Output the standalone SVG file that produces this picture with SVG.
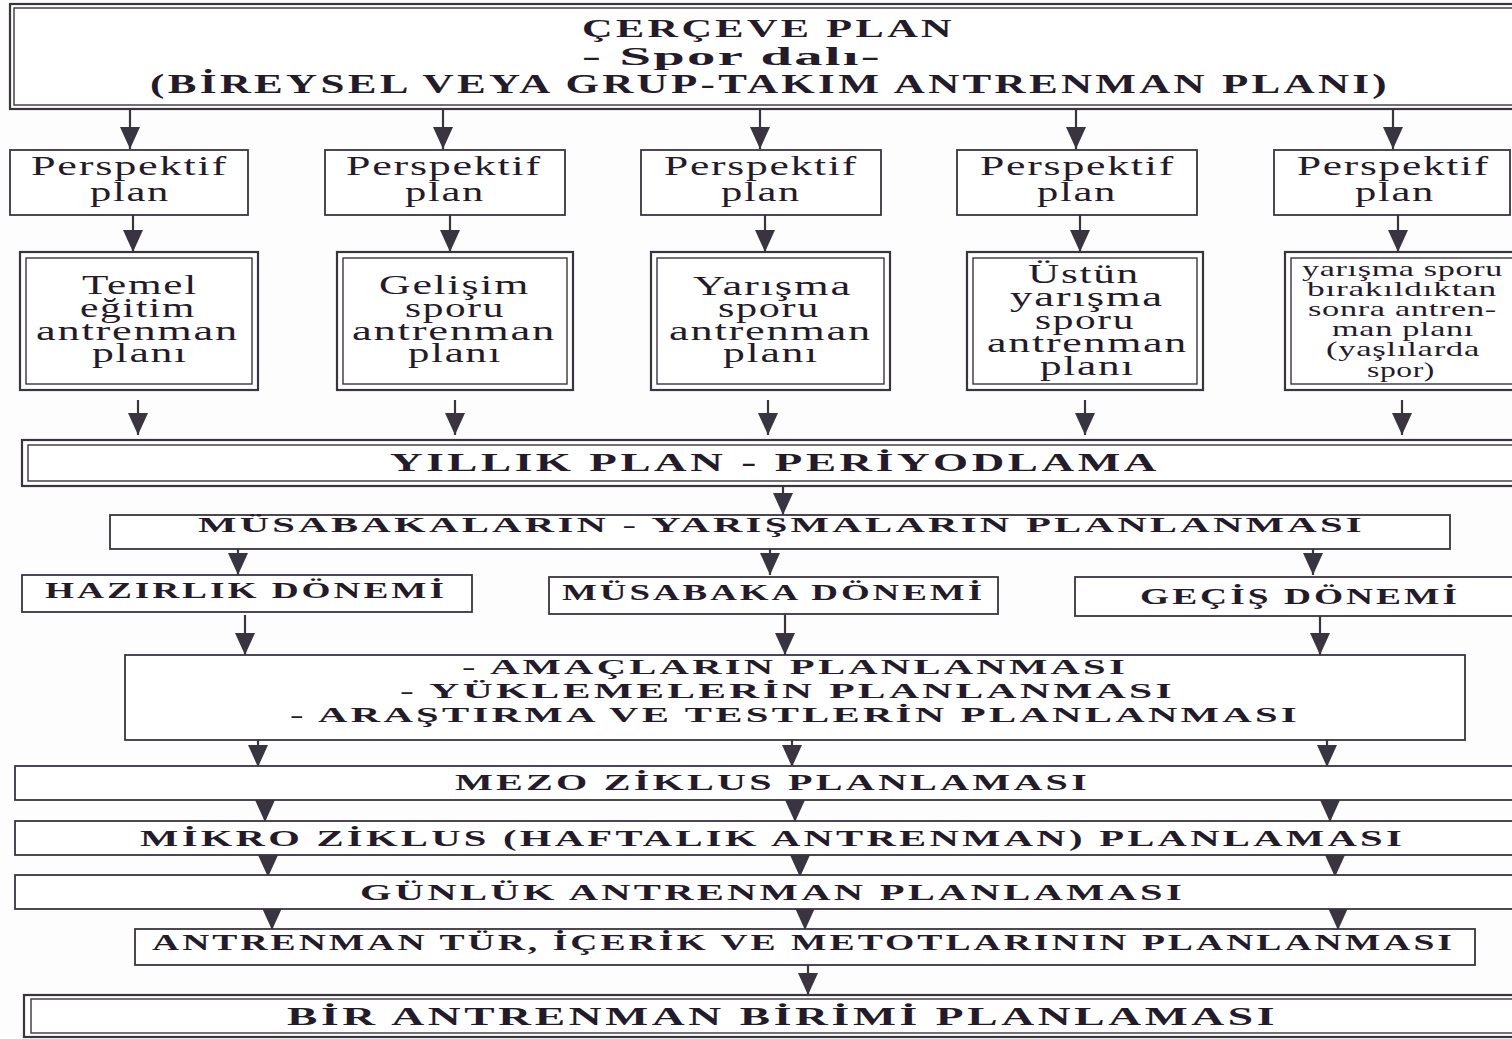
<svg xmlns="http://www.w3.org/2000/svg" width="1512" height="1039" viewBox="0 0 1512 1039">
<defs>
<style>
.bx{fill:#fff;stroke:#3a3440;stroke-width:1.8}
.bo{fill:#fff;stroke:#3a3440;stroke-width:2.2}
.bi{fill:none;stroke:#3a3440;stroke-width:1.4}
.t{font-family:"Liberation Serif","Times New Roman",serif;fill:#241b2a;letter-spacing:0.04em}
.b{font-weight:bold;letter-spacing:0.08em}
.c{stroke:#3a3440;stroke-width:2.2;fill:none;marker-end:url(#ah)}
</style>
<marker id="ah" viewBox="0 0 22 20" refX="22" refY="10" markerWidth="22" markerHeight="20" markerUnits="userSpaceOnUse" orient="auto">
<path d="M0,0 L22,10 L0,20 z" fill="#3a3440"/>
</marker>
</defs>
<rect width="1512" height="1039" fill="#fdfdfd"/>

<g id="connectors">
<line class="c" x1="130" y1="109" x2="130" y2="149"/>
<line class="c" x1="443" y1="109" x2="443" y2="149"/>
<line class="c" x1="760" y1="109" x2="760" y2="149"/>
<line class="c" x1="1076" y1="109" x2="1076" y2="149"/>
<line class="c" x1="1393" y1="109" x2="1393" y2="149"/>

<line class="c" x1="133" y1="215" x2="133" y2="252"/>
<line class="c" x1="450" y1="215" x2="450" y2="252"/>
<line class="c" x1="765" y1="215" x2="765" y2="252"/>
<line class="c" x1="1080" y1="215" x2="1080" y2="252"/>
<line class="c" x1="1398" y1="215" x2="1398" y2="252"/>

<line class="c" x1="138" y1="400" x2="138" y2="435"/>
<line class="c" x1="455" y1="400" x2="455" y2="435"/>
<line class="c" x1="768" y1="400" x2="768" y2="435"/>
<line class="c" x1="1085" y1="400" x2="1085" y2="435"/>
<line class="c" x1="1402" y1="400" x2="1402" y2="435"/>

<line class="c" x1="783" y1="486" x2="783" y2="515"/>

<line class="c" x1="238" y1="548" x2="238" y2="575"/>
<line class="c" x1="770" y1="548" x2="770" y2="575"/>
<line class="c" x1="1313" y1="548" x2="1313" y2="575"/>

<line class="c" x1="245" y1="615" x2="245" y2="655"/>
<line class="c" x1="785" y1="615" x2="785" y2="655"/>
<line class="c" x1="1320" y1="615" x2="1320" y2="655"/>

<line class="c" x1="258" y1="740" x2="258" y2="767"/>
<line class="c" x1="792" y1="740" x2="792" y2="767"/>
<line class="c" x1="1327" y1="740" x2="1327" y2="767"/>

<line class="c" x1="265" y1="800" x2="265" y2="822"/>
<line class="c" x1="795" y1="800" x2="795" y2="822"/>
<line class="c" x1="1330" y1="800" x2="1330" y2="822"/>

<line class="c" x1="268" y1="855" x2="268" y2="877"/>
<line class="c" x1="800" y1="855" x2="800" y2="877"/>
<line class="c" x1="1335" y1="855" x2="1335" y2="877"/>

<line class="c" x1="272" y1="909" x2="272" y2="930"/>
<line class="c" x1="805" y1="909" x2="805" y2="930"/>
<line class="c" x1="1338" y1="909" x2="1338" y2="930"/>

<line class="c" x1="808" y1="965" x2="808" y2="995"/>
</g>

<g id="cerceve">
<rect class="bo" x="10" y="4" width="1512" height="105"/>
<rect class="bi" x="14" y="8" width="1504" height="97"/>
<text class="t b" font-size="26"><tspan x="582" y="37" textLength="373" lengthAdjust="spacingAndGlyphs">ÇERÇEVE PLAN</tspan><tspan x="582" y="65" font-size="25" textLength="300" lengthAdjust="spacingAndGlyphs" style="letter-spacing:0.04em">- Spor dalı-</tspan><tspan x="150" y="93" font-size="27" textLength="1240" lengthAdjust="spacingAndGlyphs">(BİREYSEL VEYA GRUP-TAKIM ANTRENMAN PLANI)</tspan></text>
</g>

<g id="persp1">
<rect class="bx" x="10" y="150" width="238" height="65"/>
<text class="t" font-size="27"><tspan x="31" y="175" textLength="197" lengthAdjust="spacingAndGlyphs">Perspektif</tspan><tspan x="90" y="201" textLength="80" lengthAdjust="spacingAndGlyphs">plan</tspan></text>
</g>
<g id="persp2">
<rect class="bx" x="325" y="150" width="240" height="65"/>
<text class="t" font-size="27"><tspan x="346" y="175" textLength="196" lengthAdjust="spacingAndGlyphs">Perspektif</tspan><tspan x="405" y="201" textLength="80" lengthAdjust="spacingAndGlyphs">plan</tspan></text>
</g>
<g id="persp3">
<rect class="bx" x="641" y="150" width="240" height="65"/>
<text class="t" font-size="27"><tspan x="664" y="175" textLength="194" lengthAdjust="spacingAndGlyphs">Perspektif</tspan><tspan x="721" y="201" textLength="80" lengthAdjust="spacingAndGlyphs">plan</tspan></text>
</g>
<g id="persp4">
<rect class="bx" x="957" y="150" width="240" height="65"/>
<text class="t" font-size="27"><tspan x="980" y="175" textLength="195" lengthAdjust="spacingAndGlyphs">Perspektif</tspan><tspan x="1037" y="201" textLength="80" lengthAdjust="spacingAndGlyphs">plan</tspan></text>
</g>
<g id="persp5">
<rect class="bx" x="1274" y="150" width="236" height="65"/>
<text class="t" font-size="27"><tspan x="1297" y="175" textLength="193" lengthAdjust="spacingAndGlyphs">Perspektif</tspan><tspan x="1355" y="201" textLength="80" lengthAdjust="spacingAndGlyphs">plan</tspan></text>
</g>

<g id="temel">
<rect class="bo" x="20" y="252" width="238" height="138"/>
<rect class="bi" x="26" y="258" width="226" height="126"/>
<text class="t" font-size="27"><tspan x="82" y="294" textLength="116" lengthAdjust="spacingAndGlyphs">Temel</tspan><tspan x="80" y="317" textLength="116" lengthAdjust="spacingAndGlyphs">eğitim</tspan><tspan x="36" y="340" textLength="203" lengthAdjust="spacingAndGlyphs">antrenman</tspan><tspan x="92" y="362" textLength="96" lengthAdjust="spacingAndGlyphs">planı</tspan></text>
</g>
<g id="gelisim">
<rect class="bo" x="337" y="252" width="236" height="138"/>
<rect class="bi" x="343" y="258" width="224" height="126"/>
<text class="t" font-size="27"><tspan x="379" y="294" textLength="151" lengthAdjust="spacingAndGlyphs">Gelişim</tspan><tspan x="405" y="317" textLength="100" lengthAdjust="spacingAndGlyphs">sporu</tspan><tspan x="352" y="340" textLength="204" lengthAdjust="spacingAndGlyphs">antrenman</tspan><tspan x="408" y="362" textLength="94" lengthAdjust="spacingAndGlyphs">planı</tspan></text>
</g>
<g id="yarisma">
<rect class="bo" x="651" y="252" width="239" height="138"/>
<rect class="bi" x="657" y="258" width="227" height="126"/>
<text class="t" font-size="27"><tspan x="693" y="295" textLength="159" lengthAdjust="spacingAndGlyphs">Yarışma</tspan><tspan x="718" y="317" textLength="102" lengthAdjust="spacingAndGlyphs">sporu</tspan><tspan x="669" y="340" textLength="203" lengthAdjust="spacingAndGlyphs">antrenman</tspan><tspan x="723" y="362" textLength="96" lengthAdjust="spacingAndGlyphs">planı</tspan></text>
</g>
<g id="ustun">
<rect class="bo" x="967" y="252" width="236" height="138"/>
<rect class="bi" x="973" y="258" width="224" height="126"/>
<text class="t" font-size="27"><tspan x="1028" y="283" textLength="112" lengthAdjust="spacingAndGlyphs">Üstün</tspan><tspan x="1010" y="306" textLength="154" lengthAdjust="spacingAndGlyphs">yarışma</tspan><tspan x="1035" y="329" textLength="100" lengthAdjust="spacingAndGlyphs">sporu</tspan><tspan x="987" y="352" textLength="201" lengthAdjust="spacingAndGlyphs">antrenman</tspan><tspan x="1040" y="375" textLength="95" lengthAdjust="spacingAndGlyphs">planı</tspan></text>
</g>
<g id="yasli">
<rect class="bo" x="1285" y="252" width="236" height="138"/>
<rect class="bi" x="1291" y="258" width="224" height="126"/>
<text class="t" font-size="21" style="letter-spacing:0.02em"><tspan x="1302" y="276" textLength="201" lengthAdjust="spacingAndGlyphs">yarışma sporu</tspan><tspan x="1307" y="296" textLength="190" lengthAdjust="spacingAndGlyphs">bırakıldıktan</tspan><tspan x="1308" y="316" textLength="189" lengthAdjust="spacingAndGlyphs">sonra antren-</tspan><tspan x="1332" y="336" textLength="142" lengthAdjust="spacingAndGlyphs">man planı</tspan><tspan x="1326" y="356" textLength="154" lengthAdjust="spacingAndGlyphs">(yaşlılarda</tspan><tspan x="1367" y="377" textLength="68" lengthAdjust="spacingAndGlyphs">spor)</tspan></text>
</g>

<g id="yillik">
<rect class="bo" x="22" y="440" width="1500" height="46"/>
<rect class="bi" x="28" y="445" width="1490" height="36"/>
<text class="t b" x="390" y="471" font-size="26" textLength="770" lengthAdjust="spacingAndGlyphs">YILLIK PLAN - PERİYODLAMA</text>
</g>

<g id="musabakalar">
<rect class="bx" x="110" y="515" width="1340" height="34"/>
<text class="t b" x="198" y="532" font-size="22" textLength="1167" lengthAdjust="spacingAndGlyphs">MÜSABAKALARIN - YARIŞMALARIN PLANLANMASI</text>
</g>

<g id="hazirlik">
<rect class="bx" x="22" y="575" width="450" height="37"/>
<text class="t b" x="45" y="598" font-size="23" textLength="402" lengthAdjust="spacingAndGlyphs">HAZIRLIK DÖNEMİ</text>
</g>
<g id="musabaka">
<rect class="bx" x="549" y="577" width="449" height="37"/>
<text class="t b" x="562" y="600" font-size="23" textLength="423" lengthAdjust="spacingAndGlyphs">MÜSABAKA DÖNEMİ</text>
</g>
<g id="gecis">
<rect class="bx" x="1075" y="577" width="450" height="39"/>
<text class="t b" x="1140" y="604" font-size="23" textLength="320" lengthAdjust="spacingAndGlyphs">GEÇİŞ DÖNEMİ</text>
</g>

<g id="amaclar">
<rect class="bx" x="125" y="655" width="1340" height="85"/>
<text class="t b" font-size="22"><tspan x="462" y="674" textLength="666" lengthAdjust="spacingAndGlyphs">- AMAÇLARIN PLANLANMASI</tspan><tspan x="400" y="698" textLength="775" lengthAdjust="spacingAndGlyphs">- YÜKLEMELERİN PLANLANMASI</tspan><tspan x="290" y="722" textLength="1010" lengthAdjust="spacingAndGlyphs">- ARAŞTIRMA VE TESTLERİN PLANLANMASI</tspan></text>
</g>

<g id="mezo">
<rect class="bx" x="15" y="766" width="1510" height="34"/>
<text class="t b" x="455" y="790" font-size="23" textLength="635" lengthAdjust="spacingAndGlyphs">MEZO ZİKLUS PLANLAMASI</text>
</g>
<g id="mikro">
<rect class="bx" x="15" y="821" width="1510" height="34"/>
<text class="t b" x="140" y="846" font-size="23" textLength="1265" lengthAdjust="spacingAndGlyphs">MİKRO ZİKLUS (HAFTALIK ANTRENMAN) PLANLAMASI</text>
</g>
<g id="gunluk">
<rect class="bx" x="15" y="875" width="1510" height="34"/>
<text class="t b" x="360" y="900" font-size="23" textLength="825" lengthAdjust="spacingAndGlyphs">GÜNLÜK ANTRENMAN PLANLAMASI</text>
</g>
<g id="tur">
<rect class="bx" x="135" y="929" width="1340" height="36"/>
<text class="t b" x="152" y="950" font-size="23" textLength="1303" lengthAdjust="spacingAndGlyphs">ANTRENMAN TÜR, İÇERİK VE METOTLARININ PLANLANMASI</text>
</g>

<g id="birim">
<rect class="bo" x="24" y="995" width="1500" height="42"/>
<rect class="bi" x="31" y="999" width="1490" height="34"/>
<text class="t b" x="287" y="1025" font-size="26" textLength="991" lengthAdjust="spacingAndGlyphs">BİR ANTRENMAN BİRİMİ PLANLAMASI</text>
</g>
</svg>
